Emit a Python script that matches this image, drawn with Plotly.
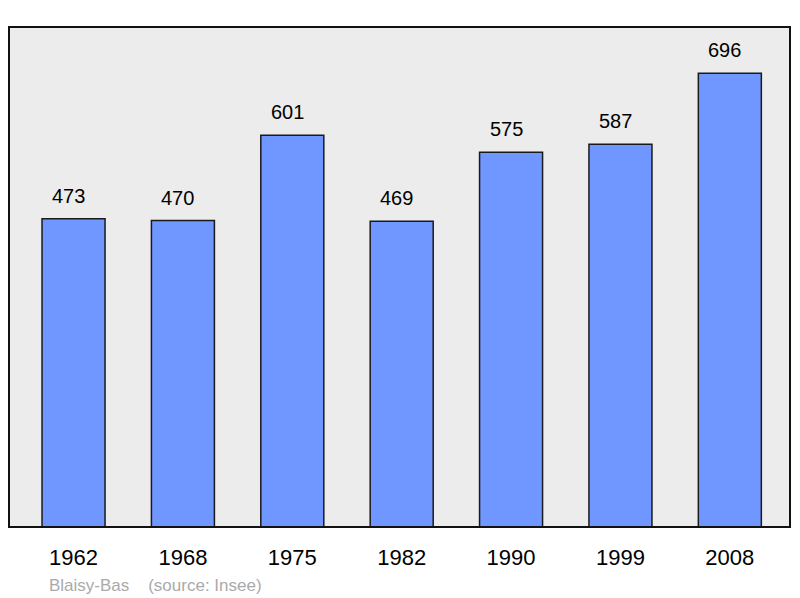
import plotly.graph_objects as go

years = ["1962", "1968", "1975", "1982", "1990", "1999", "2008"]
population = [473, 470, 601, 469, 575, 587, 696]
commune = "Blaisy-Bas"
source = "(source: Insee)"

fig = go.Figure()
fig.add_trace(go.Bar(
    x=years, y=population, width=0.576,
    marker=dict(color="#7097ff", line=dict(color="#1a1a1a", width=1.5)),
    hoverinfo="x+y",
))

for i, v in enumerate(population):
    fig.add_annotation(x=i, y=v, text=str(v), showarrow=False,
                       yanchor="bottom", yshift=10, xshift=-5,
                       font=dict(family="Liberation Sans, Arial", size=20, color="#000"))

fig.add_annotation(xref="paper", yref="paper", x=0, y=0, xanchor="left", yanchor="middle",
                   xshift=38, yshift=-58, showarrow=False,
                   text=commune + "\u00a0\u00a0\u00a0\u00a0" + source,
                   font=dict(family="Liberation Sans, Arial", size=17, color="#aaaaaa"))

fig.add_shape(type="rect", xref="paper", yref="paper", x0=0, y0=0, x1=1, y1=1,
              line=dict(color="#111", width=2), fillcolor="rgba(0,0,0,0)", layer="above")

fig.update_layout(
    width=800, height=598,
    margin=dict(l=9, r=10, t=27, b=71, autoexpand=False),
    plot_bgcolor="#ececec", paper_bgcolor="#ffffff",
    showlegend=False,
    xaxis=dict(type="category", range=[-0.59, 6.55], showgrid=False, zeroline=False,
               showline=False, ticks="", ticklabelstandoff=15,
               tickfont=dict(family="Liberation Sans, Arial", size=22, color="#000")),
    yaxis=dict(range=[0, 767], showgrid=False, zeroline=False, showticklabels=False,
               showline=False, ticks=""),
)

fig.write_html("out.html", post_script="document.body.style.margin='0';",
               config={"displayModeBar": False})
